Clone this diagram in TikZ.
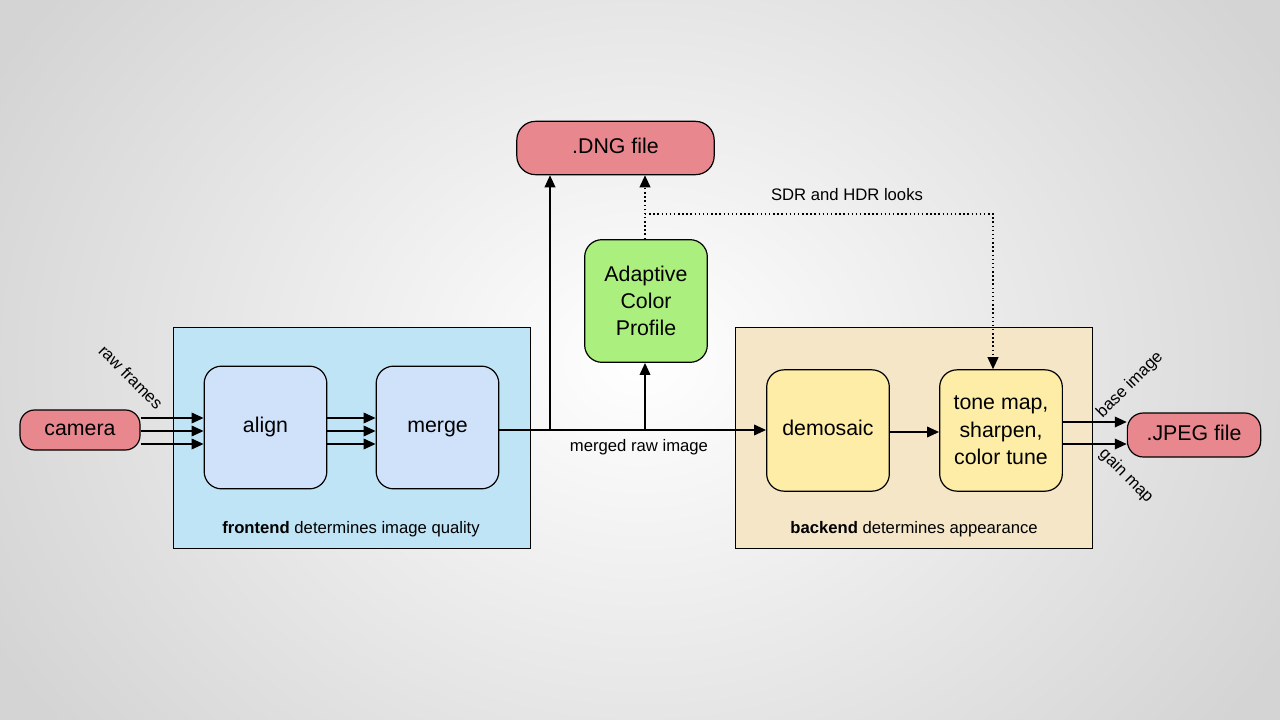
\documentclass[tikz,border=0pt]{standalone}
\usepackage{fontspec}
\setmainfont{Liberation Sans}
\usetikzlibrary{arrows.meta}
\definecolor{redf}{RGB}{232,136,142}
\definecolor{bluebg}{RGB}{190,228,246}
\definecolor{bluen}{RGB}{208,226,250}
\definecolor{greenf}{RGB}{171,240,126}
\definecolor{tanbg}{RGB}{245,230,200}
\definecolor{yelf}{RGB}{253,237,166}
\begin{document}
\begin{tikzpicture}[x=0.75pt,y=-0.75pt,
  box/.style={draw=black,line width=0.9pt,rounded corners=13pt,align=center,font=\fontsize{16}{20.5}\selectfont,inner sep=0pt},
  grp/.style={draw=black,line width=0.6pt},
  lab/.style={font=\fontsize{12.5}{15}\selectfont},
  arr/.style={-{Triangle[length=9pt,width=8pt]},line width=1.1pt},
  dot/.style={arr,dotted,line width=1.3pt}]
\useasboundingbox (0,0) rectangle (1280,720);
\shade[inner color=white,outer color=black!17] (-100,-250) rectangle (1380,970);
\draw[grp,fill=bluebg] (173,327) rectangle (530,548);
\draw[grp,fill=tanbg] (735,327) rectangle (1092,548);
\node[lab] (fl) at (351,529) {\textbf{frontend} determines image quality};
\node[lab] (bl) at (914,529) {\textbf{backend} determines appearance};
\node[box,fill=redf,minimum width=90pt,minimum height=30pt,rounded corners=11pt] (cam) at (80,430) {\strut camera};
\node[box,fill=bluen,minimum width=92pt,minimum height=92pt] (align) at (265.5,427.5) {\strut align};
\node[box,fill=bluen,minimum width=92pt,minimum height=92pt] (merge) at (437.5,427.5) {\strut merge};
\node[box,fill=redf,minimum width=148pt,minimum height=40pt,rounded corners=14pt] (dng) at (615.5,148) {\strut .DNG file};
\node[box,fill=greenf,minimum width=92pt,minimum height=92pt] (acp) at (646,301) {Adaptive\\Color\\Profile};
\node[box,fill=yelf,minimum width=92pt,minimum height=91pt] (dem) at (828,430.5) {\strut demosaic};
\node[box,fill=yelf,minimum width=92pt,minimum height=91pt] (tone) at (1001,430.5) {tone map,\\sharpen,\\color tune};
\node[box,fill=redf,minimum width=100pt,minimum height=33pt,rounded corners=12pt] (jpeg) at (1194,435) {\strut .JPEG file};
\foreach \y in {418,431,444}{
  \draw[arr] (cam.east |- 0,\y) -- (align.west |- 0,\y);
  \draw[arr] (align.east |- 0,\y) -- (merge.west |- 0,\y);
}
\coordinate (b1) at (550,430);
\coordinate (b2) at (645,430);
\draw[arr] (merge.east |- b1) -- (dem.west |- b1);
\draw[arr] (b1) -- (b1 |- dng.south);
\draw[arr] (b2) -- (b2 |- acp.south);
\coordinate (d1) at (645,214);
\coordinate (d2) at (993,214);
\draw[dot] (acp.north -| d1) -- (d1 |- dng.south);
\draw[dot] (d1) -- (d2) -- (d2 |- tone.north);
\draw[arr] (dem.east |- 0,432) -- (tone.west |- 0,432);
\draw[arr] (tone.east |- 0,422) -- (jpeg.west |- 0,422);
\draw[arr] (tone.east |- 0,444) -- (jpeg.west |- 0,444);
\node[lab] (ml) at (639,447) {merged raw image};
\node[lab] (sl) at (847,195) {SDR and HDR looks};
\node[lab,rotate=-45] (rf) at (131,377) {raw frames};
\node[lab,rotate=45] (bi) at (1130,385) {base image};
\node[lab,rotate=-45] (gm) at (1126,476) {gain map};
\end{tikzpicture}
\end{document}
